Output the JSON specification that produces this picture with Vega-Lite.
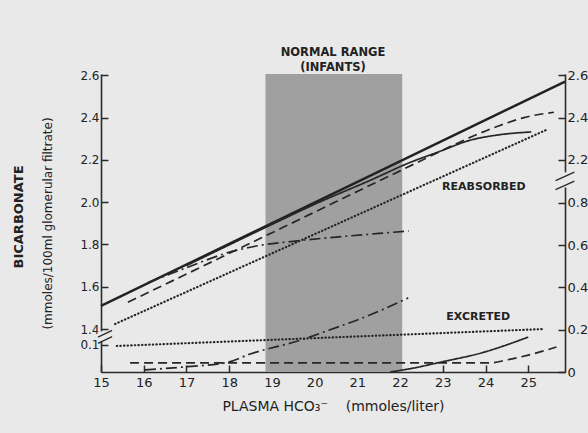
{
  "$schema": "https://vega.github.io/schema/vega-lite/v6.json",
  "width": 464,
  "height": 298,
  "autosize": {"type": "none"},
  "padding": {"left": 101, "top": 74, "right": 23, "bottom": 61},
  "background": "#e9e9e9",
  "config": {
    "view": {"stroke": null},
    "font": "DejaVu Sans",
    "axis": {
      "grid": false,
      "domainColor": "#2b2b2b",
      "domainWidth": 1.6,
      "tickColor": "#2b2b2b",
      "tickWidth": 1.5,
      "tickSize": -7,
      "labelFont": "DejaVu Sans",
      "labelFontSize": 12,
      "labelColor": "#222222",
      "labelFlush": false,
      "labelOverlap": false,
      "titleFont": "DejaVu Sans",
      "titleColor": "#222222",
      "titleFontWeight": "normal"
    },
    "text": {"font": "DejaVu Sans", "color": "#222222"}
  },
  "datasets": {
    "curves": [
      {"hco3": 15.0, "bicarb": 1.51, "infant": "Filtered load", "part": "filtered"},
      {"hco3": 25.86, "bicarb": 2.57, "infant": "Filtered load", "part": "filtered"},

      {"hco3": 15.63, "bicarb": 1.527, "infant": "Infant 1", "part": "reabsorbed"},
      {"hco3": 17.0, "bicarb": 1.66, "infant": "Infant 1", "part": "reabsorbed"},
      {"hco3": 18.72, "bicarb": 1.828, "infant": "Infant 1", "part": "reabsorbed"},
      {"hco3": 20.0, "bicarb": 1.953, "infant": "Infant 1", "part": "reabsorbed"},
      {"hco3": 21.32, "bicarb": 2.082, "infant": "Infant 1", "part": "reabsorbed"},
      {"hco3": 22.0, "bicarb": 2.148, "infant": "Infant 1", "part": "reabsorbed"},
      {"hco3": 23.0, "bicarb": 2.246, "infant": "Infant 1", "part": "reabsorbed"},
      {"hco3": 23.66, "bicarb": 2.308, "infant": "Infant 1", "part": "reabsorbed"},
      {"hco3": 24.3, "bicarb": 2.36, "infant": "Infant 1", "part": "reabsorbed"},
      {"hco3": 24.9, "bicarb": 2.4, "infant": "Infant 1", "part": "reabsorbed"},
      {"hco3": 25.6, "bicarb": 2.425, "infant": "Infant 1", "part": "reabsorbed"},

      {"hco3": 17.0, "bicarb": 1.7, "infant": "Infant 2", "part": "reabsorbed"},
      {"hco3": 19.0, "bicarb": 1.895, "infant": "Infant 2", "part": "reabsorbed"},
      {"hco3": 20.0, "bicarb": 1.99, "infant": "Infant 2", "part": "reabsorbed"},
      {"hco3": 21.32, "bicarb": 2.105, "infant": "Infant 2", "part": "reabsorbed"},
      {"hco3": 22.2, "bicarb": 2.185, "infant": "Infant 2", "part": "reabsorbed"},
      {"hco3": 22.89, "bicarb": 2.237, "infant": "Infant 2", "part": "reabsorbed"},
      {"hco3": 23.66, "bicarb": 2.294, "infant": "Infant 2", "part": "reabsorbed"},
      {"hco3": 24.3, "bicarb": 2.318, "infant": "Infant 2", "part": "reabsorbed"},
      {"hco3": 25.07, "bicarb": 2.332, "infant": "Infant 2", "part": "reabsorbed"},

      {"hco3": 16.1, "bicarb": 1.62, "infant": "Infant 3", "part": "reabsorbed"},
      {"hco3": 17.0, "bicarb": 1.69, "infant": "Infant 3", "part": "reabsorbed"},
      {"hco3": 17.95, "bicarb": 1.76, "infant": "Infant 3", "part": "reabsorbed"},
      {"hco3": 18.7, "bicarb": 1.795, "infant": "Infant 3", "part": "reabsorbed"},
      {"hco3": 19.5, "bicarb": 1.815, "infant": "Infant 3", "part": "reabsorbed"},
      {"hco3": 20.5, "bicarb": 1.835, "infant": "Infant 3", "part": "reabsorbed"},
      {"hco3": 21.5, "bicarb": 1.852, "infant": "Infant 3", "part": "reabsorbed"},
      {"hco3": 22.2, "bicarb": 1.864, "infant": "Infant 3", "part": "reabsorbed"},

      {"hco3": 15.33, "bicarb": 1.424, "infant": "Infant 4", "part": "reabsorbed"},
      {"hco3": 25.47, "bicarb": 2.346, "infant": "Infant 4", "part": "reabsorbed"},

      {"hco3": 15.68, "bicarb": 0.043, "infant": "Infant 1", "part": "excreted"},
      {"hco3": 20.0, "bicarb": 0.043, "infant": "Infant 1", "part": "excreted"},
      {"hco3": 24.1, "bicarb": 0.043, "infant": "Infant 1", "part": "excreted"},
      {"hco3": 24.5, "bicarb": 0.057, "infant": "Infant 1", "part": "excreted"},
      {"hco3": 25.0, "bicarb": 0.08, "infant": "Infant 1", "part": "excreted"},
      {"hco3": 25.66, "bicarb": 0.118, "infant": "Infant 1", "part": "excreted"},

      {"hco3": 21.77, "bicarb": 0.0, "infant": "Infant 2", "part": "excreted"},
      {"hco3": 22.3, "bicarb": 0.018, "infant": "Infant 2", "part": "excreted"},
      {"hco3": 22.96, "bicarb": 0.047, "infant": "Infant 2", "part": "excreted"},
      {"hco3": 23.9, "bicarb": 0.09, "infant": "Infant 2", "part": "excreted"},
      {"hco3": 25.0, "bicarb": 0.165, "infant": "Infant 2", "part": "excreted"},

      {"hco3": 16.03, "bicarb": 0.01, "infant": "Infant 3", "part": "excreted"},
      {"hco3": 17.0, "bicarb": 0.025, "infant": "Infant 3", "part": "excreted"},
      {"hco3": 17.95, "bicarb": 0.045, "infant": "Infant 3", "part": "excreted"},
      {"hco3": 18.49, "bicarb": 0.085, "infant": "Infant 3", "part": "excreted"},
      {"hco3": 19.66, "bicarb": 0.15, "infant": "Infant 3", "part": "excreted"},
      {"hco3": 20.6, "bicarb": 0.217, "infant": "Infant 3", "part": "excreted"},
      {"hco3": 21.0, "bicarb": 0.246, "infant": "Infant 3", "part": "excreted"},
      {"hco3": 22.19, "bicarb": 0.35, "infant": "Infant 3", "part": "excreted"},

      {"hco3": 15.37, "bicarb": 0.123, "infant": "Infant 4", "part": "excreted"},
      {"hco3": 25.35, "bicarb": 0.203, "infant": "Infant 4", "part": "excreted"}
    ]
  },
  "layer": [
    {
      "data": {"values": [{"range": "Normal range (infants)", "from": 18.85, "to": 22.05}]},
      "mark": {"type": "rect", "color": "#a0a0a0"},
      "encoding": {
        "x": {"field": "from", "type": "quantitative", "scale": {"domain": [15, 25.86], "nice": false, "zero": false}, "axis": null},
        "x2": {"field": "to"}
      }
    },
    {
      "data": {"name": "curves"},
      "transform": [{"filter": "datum.part == 'filtered'"}],
      "mark": {"type": "line", "color": "#222222", "strokeWidth": 2.4},
      "encoding": {
        "x": {
          "field": "hco3", "type": "quantitative",
          "scale": {"domain": [15, 25.86], "nice": false, "zero": false},
          "axis": {
            "orient": "bottom",
            "values": [15, 16, 17, 18, 19, 20, 21, 22, 23, 24, 25],
            "labelPadding": 11,
            "labelFontSize": 13,
            "title": "PLASMA HCO₃⁻\u00a0\u00a0\u00a0\u00a0(mmoles/liter)",
            "titleFontSize": 14,
            "titlePadding": 10
          }
        },
        "y": {
          "field": "bicarb", "type": "quantitative",
          "scale": {"domain": [1.197, 2.606], "nice": false, "zero": false},
          "axis": {
            "orient": "left",
            "values": [1.325, 1.4, 1.6, 1.8, 2.0, 2.2, 2.4, 2.6],
            "labelExpr": "datum.value < 1.35 ? '0.1' : format(datum.value, '.1f')",
            "labelPadding": 9,
            "title": "(mmoles/100ml glomerular filtrate)",
            "titleFontSize": 12,
            "titleX": -54,
            "titleY": 149,
            "titleAngle": 270,
            "titleBaseline": "middle",
            "titleAlign": "center"
          }
        },
        "order": {"field": "hco3", "type": "quantitative"}
      }
    },
    {
      "data": {"name": "curves"},
      "transform": [{"filter": "datum.part == 'reabsorbed' && datum.infant != 'Infant 4'"}],
      "mark": {"type": "line", "interpolate": "monotone", "color": "#262626", "strokeWidth": 1.7},
      "encoding": {
        "x": {"field": "hco3", "type": "quantitative", "scale": {"domain": [15, 25.86], "nice": false, "zero": false}, "axis": null},
        "y": {"field": "bicarb", "type": "quantitative", "scale": {"domain": [1.197, 2.606], "nice": false, "zero": false}, "axis": null},
        "strokeDash": {
          "field": "infant", "type": "nominal", "legend": null,
          "scale": {"domain": ["Infant 1", "Infant 2", "Infant 3"], "range": [[9, 5], [1, 0], [11, 4, 2, 4]]}
        },
        "order": {"field": "hco3", "type": "quantitative"}
      }
    },
    {
      "data": {"name": "curves"},
      "transform": [{"filter": "datum.part == 'reabsorbed' && datum.infant == 'Infant 4'"}],
      "mark": {"type": "line", "color": "#262626", "strokeWidth": 2.2, "strokeCap": "round", "strokeDash": [0.4, 3.2]},
      "encoding": {
        "x": {"field": "hco3", "type": "quantitative", "scale": {"domain": [15, 25.86], "nice": false, "zero": false}, "axis": null},
        "y": {"field": "bicarb", "type": "quantitative", "scale": {"domain": [1.197, 2.606], "nice": false, "zero": false}, "axis": null},
        "order": {"field": "hco3", "type": "quantitative"}
      }
    },
    {
      "data": {"name": "curves"},
      "transform": [{"filter": "datum.part == 'excreted' && datum.infant != 'Infant 4'"}],
      "mark": {"type": "line", "interpolate": "monotone", "color": "#262626", "strokeWidth": 1.7},
      "encoding": {
        "x": {"field": "hco3", "type": "quantitative", "scale": {"domain": [15, 25.86], "nice": false, "zero": false}, "axis": null},
        "y": {
          "field": "bicarb", "type": "quantitative",
          "scale": {"domain": [0, 1.409], "nice": false},
          "axis": {
            "orient": "right",
            "values": [0, 0.2, 0.4, 0.6, 0.8, 1.003, 1.203, 1.403],
            "labelExpr": "datum.value > 0.9 ? format(datum.value + 1.197, '.1f') : (datum.value == 0 ? '0' : format(datum.value, '.1f'))",
            "labelPadding": 9,
            "labelFontSize": 13,
            "title": null
          }
        },
        "strokeDash": {
          "field": "infant", "type": "nominal", "legend": null,
          "scale": {"domain": ["Infant 1", "Infant 2", "Infant 3"], "range": [[9, 5], [1, 0], [11, 4, 2, 4]]}
        },
        "order": {"field": "hco3", "type": "quantitative"}
      }
    },
    {
      "data": {"name": "curves"},
      "transform": [{"filter": "datum.part == 'excreted' && datum.infant == 'Infant 4'"}],
      "mark": {"type": "line", "color": "#262626", "strokeWidth": 2.2, "strokeCap": "round", "strokeDash": [0.4, 3.2]},
      "encoding": {
        "x": {"field": "hco3", "type": "quantitative", "scale": {"domain": [15, 25.86], "nice": false, "zero": false}, "axis": null},
        "y": {"field": "bicarb", "type": "quantitative", "scale": {"domain": [0, 1.409], "nice": false}, "axis": null},
        "order": {"field": "hco3", "type": "quantitative"}
      }
    },
    {
      "data": {"values": [{"gap": "left axis break"}]},
      "mark": {"type": "rect", "color": "#e9e9e9"},
      "encoding": {
        "x": {"datum": 14.92, "type": "quantitative", "scale": {"domain": [15, 25.86], "nice": false, "zero": false}, "axis": null},
        "x2": {"datum": 15.08},
        "y": {"datum": 0.145, "type": "quantitative", "scale": {"domain": [0, 1.409], "nice": false}, "axis": null},
        "y2": {"datum": 0.192}
      }
    },
    {
      "data": {"values": [{"gap": "right axis break"}]},
      "mark": {"type": "rect", "color": "#e9e9e9"},
      "encoding": {
        "x": {"datum": 25.78, "type": "quantitative", "scale": {"domain": [15, 25.86], "nice": false, "zero": false}, "axis": null},
        "x2": {"datum": 25.94},
        "y": {"datum": 0.872, "type": "quantitative", "scale": {"domain": [0, 1.409], "nice": false}, "axis": null},
        "y2": {"datum": 0.944}
      }
    },
    {
      "data": {"values": [{"mark": "break slash"}]},
      "mark": {"type": "rule", "color": "#2b2b2b", "strokeWidth": 1.4},
      "encoding": {
        "x": {"datum": 14.93, "type": "quantitative", "scale": {"domain": [15, 25.86], "nice": false, "zero": false}, "axis": null},
        "x2": {"datum": 15.26},
        "y": {"datum": 0.165, "type": "quantitative", "scale": {"domain": [0, 1.409], "nice": false}, "axis": null},
        "y2": {"datum": 0.197}
      }
    },
    {
      "data": {"values": [{"mark": "break slash"}]},
      "mark": {"type": "rule", "color": "#2b2b2b", "strokeWidth": 1.4},
      "encoding": {
        "x": {"datum": 14.93, "type": "quantitative", "scale": {"domain": [15, 25.86], "nice": false, "zero": false}, "axis": null},
        "x2": {"datum": 15.26},
        "y": {"datum": 0.135, "type": "quantitative", "scale": {"domain": [0, 1.409], "nice": false}, "axis": null},
        "y2": {"datum": 0.167}
      }
    },
    {
      "data": {"values": [{"mark": "break slash"}]},
      "mark": {"type": "rule", "color": "#2b2b2b", "strokeWidth": 1.4},
      "encoding": {
        "x": {"datum": 25.64, "type": "quantitative", "scale": {"domain": [15, 25.86], "nice": false, "zero": false}, "axis": null},
        "x2": {"datum": 26.08},
        "y": {"datum": 0.905, "type": "quantitative", "scale": {"domain": [0, 1.409], "nice": false}, "axis": null},
        "y2": {"datum": 0.945}
      }
    },
    {
      "data": {"values": [{"mark": "break slash"}]},
      "mark": {"type": "rule", "color": "#2b2b2b", "strokeWidth": 1.4},
      "encoding": {
        "x": {"datum": 25.64, "type": "quantitative", "scale": {"domain": [15, 25.86], "nice": false, "zero": false}, "axis": null},
        "x2": {"datum": 26.08},
        "y": {"datum": 0.862, "type": "quantitative", "scale": {"domain": [0, 1.409], "nice": false}, "axis": null},
        "y2": {"datum": 0.902}
      }
    },
    {
      "data": {"values": [{"label": "normal range"}]},
      "mark": {"type": "text", "fontWeight": "bold", "fontSize": 11.5, "lineHeight": 15, "align": "center", "baseline": "middle"},
      "encoding": {
        "x": {"datum": 20.43, "type": "quantitative", "scale": {"domain": [15, 25.86], "nice": false, "zero": false}, "axis": null},
        "y": {"datum": 1.506, "type": "quantitative", "scale": {"domain": [0, 1.409], "nice": false}, "axis": null},
        "text": {"value": ["NORMAL RANGE", "(INFANTS)"]}
      }
    },
    {
      "data": {"values": [{"label": "reabsorbed"}]},
      "mark": {"type": "text", "fontWeight": "bold", "fontSize": 11, "align": "center", "baseline": "middle"},
      "encoding": {
        "x": {"datum": 23.96, "type": "quantitative", "scale": {"domain": [15, 25.86], "nice": false, "zero": false}, "axis": null},
        "y": {"datum": 0.875, "type": "quantitative", "scale": {"domain": [0, 1.409], "nice": false}, "axis": null},
        "text": {"value": "REABSORBED"}
      }
    },
    {
      "data": {"values": [{"label": "excreted"}]},
      "mark": {"type": "text", "fontWeight": "bold", "fontSize": 11, "align": "center", "baseline": "middle"},
      "encoding": {
        "x": {"datum": 23.83, "type": "quantitative", "scale": {"domain": [15, 25.86], "nice": false, "zero": false}, "axis": null},
        "y": {"datum": 0.26, "type": "quantitative", "scale": {"domain": [0, 1.409], "nice": false}, "axis": null},
        "text": {"value": "EXCRETED"}
      }
    },
    {
      "data": {"values": [{"label": "y title"}]},
      "mark": {"type": "text", "fontWeight": "bold", "fontSize": 13, "align": "center", "baseline": "middle", "angle": 270},
      "encoding": {
        "x": {"datum": 13.08, "type": "quantitative", "scale": {"domain": [15, 25.86], "nice": false, "zero": false}, "axis": null},
        "y": {"datum": 0.733, "type": "quantitative", "scale": {"domain": [0, 1.409], "nice": false}, "axis": null},
        "text": {"value": "BICARBONATE"}
      }
    }
  ],
  "resolve": {"scale": {"y": "independent"}, "axis": {"x": "independent", "y": "independent"}}
}
